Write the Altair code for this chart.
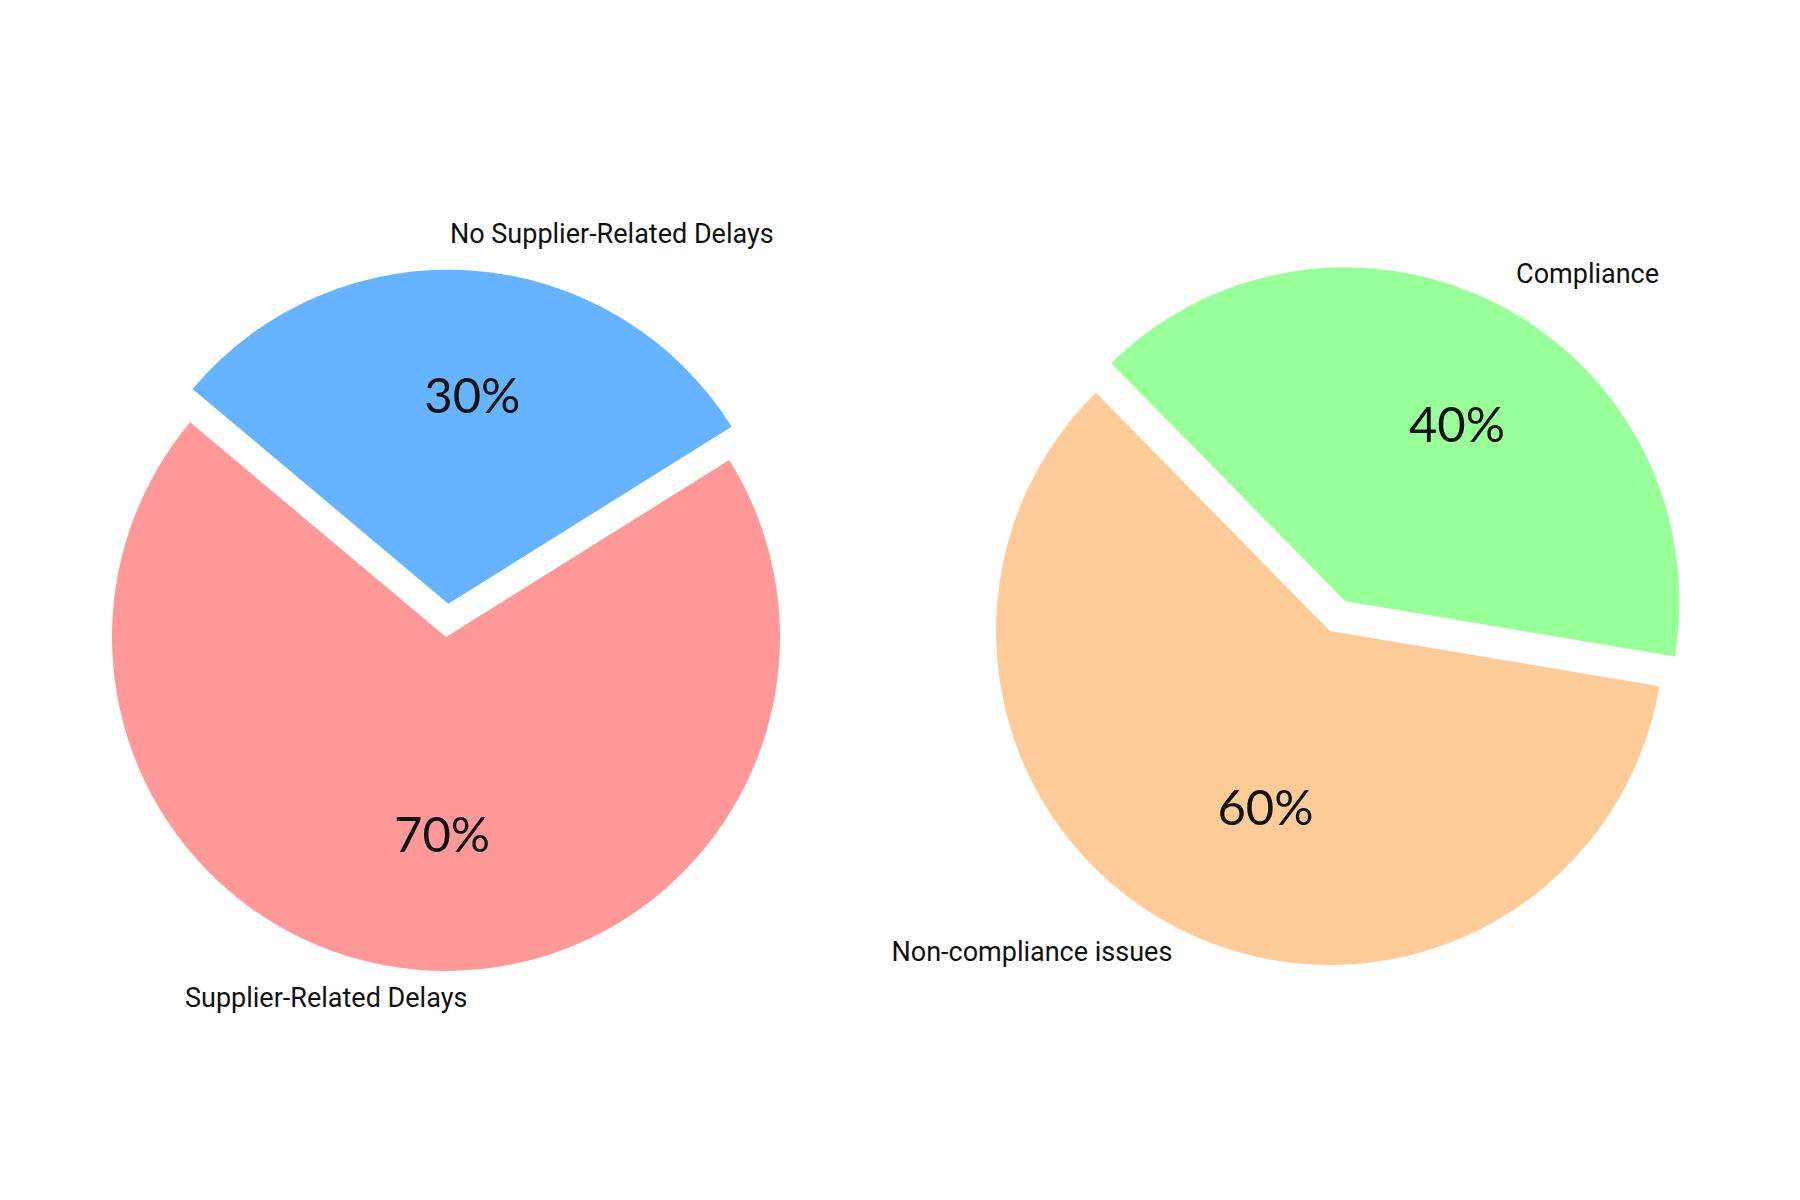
import math
import altair as alt
import pandas as pd

# ---- data ----
left_labels = ["No Supplier-Related Delays", "Supplier-Related Delays"]
left_values = [30, 70]
left_explode = [0.1, 0.0]
right_labels = ["Compliance", "Non-compliance issues"]
right_values = [40, 60]
right_explode = [0.1, 0.0]

# ---- styles ----
left_colors = ["#66b3ff", "#ff9999"]
right_colors = ["#99ff99", "#ffcc99"]
R = 334
LABEL_FONT = "Roboto"
LABEL_SIZE = 27
PCT_FONT = "Lato"
PCT_SIZE = 49
TEXT_COLOR = "#111111"


def pie_layers(labels, values, colors, explode, cx, cy, start_deg,
               label_aligns, pct_shift, label_shift):
    df = pd.DataFrame({"label": labels, "value": values,
                       "order": list(range(len(labels)))})
    total = float(sum(values))
    start = math.radians(start_deg)
    theta_scale = alt.Scale(domain=[0, total], range=[start, start + 2 * math.pi])
    color_scale = alt.Scale(domain=labels, range=colors)
    base = (
        alt.Chart(df)
        .transform_window(cum="sum(value)", sort=[alt.SortField("order")], frame=[None, 0])
        .transform_calculate(
            t0="datum.cum - datum.value",
            mid="datum.cum - datum.value / 2",
            pct=f"format(datum.value / {total}, '.0%')",
        )
    )
    layers = []
    cum = 0.0
    for i, (lab, val, ex) in enumerate(zip(labels, values, explode)):
        mid_ang = start + (cum + val / 2.0) / total * 2 * math.pi
        cum += val
        sx = cx + ex * R * math.sin(mid_ang)
        sy = cy - ex * R * math.cos(mid_ang)
        b = base.transform_filter(alt.datum.label == lab)
        arc = b.mark_arc(radius=R).encode(
            theta=alt.Theta("t0:Q", scale=theta_scale, stack=None),
            theta2="cum:Q",
            color=alt.Color("label:N", scale=color_scale, legend=None),
            x=alt.value(sx),
            y=alt.value(sy),
        )
        pct = b.mark_text(
            font=PCT_FONT, fontSize=PCT_SIZE, color=TEXT_COLOR,
            align="center", baseline="middle",
            dx=pct_shift[i][0], dy=pct_shift[i][1],
        ).encode(
            theta=alt.Theta("mid:Q", scale=theta_scale, stack=None),
            radius=alt.value(0.6 * R),
            text="pct:N",
            x=alt.value(sx),
            y=alt.value(sy),
        )
        lbl = b.mark_text(
            font=LABEL_FONT, fontSize=LABEL_SIZE, color=TEXT_COLOR,
            align=label_aligns[i], baseline="middle",
            dx=label_shift[i][0], dy=label_shift[i][1],
        ).encode(
            theta=alt.Theta("mid:Q", scale=theta_scale, stack=None),
            radius=alt.value(1.1 * R),
            text="label:N",
            x=alt.value(sx),
            y=alt.value(sy),
        )
        layers += [arc, pct, lbl]
    return layers


layers = []
layers += pie_layers(left_labels, left_values, left_colors, left_explode,
                     438, 629, -50, ["left", "right"],
                     [(10, -6), (10, 0)], [(-24, -2), (47, -5)])
layers += pie_layers(right_labels, right_values, right_colors, right_explode,
                     1322, 623, -44.5, ["left", "right"],
                     [(19, 3), (28, 1)], [(1, 0), (12, -4)])

chart = (
    alt.layer(*layers)
    .resolve_scale(theta="independent", color="independent")
    .properties(width=1784, height=1184, padding=0,
                autosize=alt.AutoSizeParams(type="none"), background="white")
    .configure_view(stroke=None)
)

chart.save("out.html", embed_options={"renderer": "svg", "actions": False})
